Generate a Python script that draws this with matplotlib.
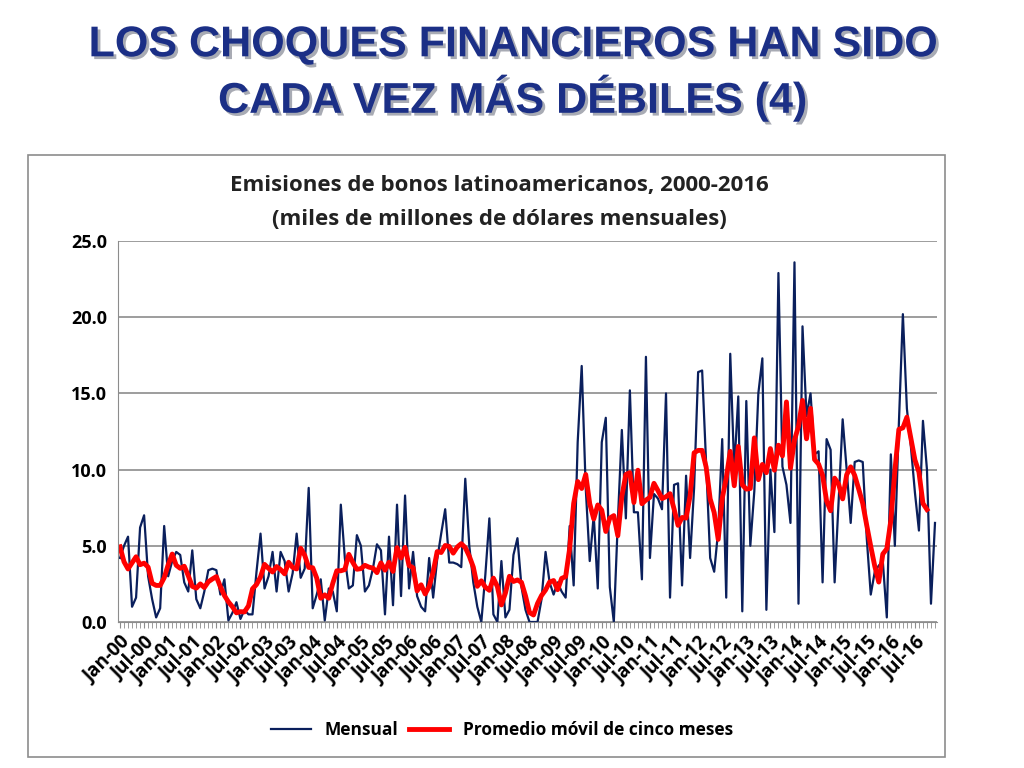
import numpy as np
import pandas as pd
import matplotlib.pyplot as plt
import matplotlib.patheffects as pe
from matplotlib.patches import Rectangle

# monthly Latin American bond issues, Jan-2000 .. Dec-2016 (USD bn)
y2000 = [4.2, 5.0, 5.6, 1.0, 1.6, 6.2, 7.0, 3.0, 1.5, 0.3, 0.9, 6.3]
y2001 = [3.0, 4.0, 4.6, 4.4, 2.6, 2.0, 4.7, 1.5, 0.9, 2.0, 3.4, 3.5]
y2002 = [3.4, 1.8, 2.8, 0.1, 0.6, 1.3, 0.2, 0.8, 0.5, 0.5, 3.3, 5.8]
y2003 = [2.2, 3.0, 4.6, 2.0, 4.6, 4.0, 2.0, 3.2, 5.8, 2.9, 3.5, 8.8]
y2004 = [0.9, 1.8, 2.8, 0.1, 2.2, 2.0, 0.7, 7.7, 4.2, 2.2, 2.4, 5.7]
y2005 = [5.0, 2.0, 2.4, 3.5, 5.1, 4.7, 0.5, 5.6, 1.1, 7.7, 1.7, 8.3]
y2006 = [2.2, 4.6, 1.7, 1.0, 0.7, 4.2, 1.6, 4.1, 5.8, 7.4, 3.9, 3.9]
y2007 = [3.8, 3.6, 9.4, 5.0, 2.6, 1.0, 0.0, 3.1, 6.8, 0.5, 0.0, 4.0]
y2008 = [0.3, 0.8, 4.4, 5.5, 2.3, 0.8, 0.0, 0.0, 0.0, 1.5, 4.6, 2.6]
y2009 = [1.8, 2.6, 2.0, 1.6, 6.3, 2.4, 11.8, 16.8, 8.8, 4.0, 7.0, 2.2]
y2010 = [11.8, 13.4, 2.3, 0.0, 6.6, 12.6, 6.8, 15.2, 7.2, 7.2, 2.8, 17.4]
y2011 = [4.2, 8.4, 8.1, 7.4, 15.0, 1.6, 9.0, 9.1, 2.4, 9.6, 4.2, 8.8]
y2012 = [16.4, 16.5, 10.4, 4.2, 3.3, 6.0, 12.0, 1.6, 17.6, 10.0, 14.8, 0.7]
y2013 = [14.5, 5.0, 8.6, 15.0, 17.3, 0.8, 10.0, 5.9, 22.9, 10.2, 9.0, 6.5]
y2014 = [23.6, 1.2, 19.4, 13.5, 15.0, 11.0, 11.2, 2.6, 12.0, 11.3, 2.6, 8.0]
y2015 = [13.3, 10.0, 6.5, 10.5, 10.6, 10.5, 5.5, 1.8, 3.3, 3.7, 4.0, 0.3]
y2016 = [11.0, 5.0, 13.0, 20.2, 14.0, 11.5, 8.5, 6.0, 13.2, 10.0, 1.2, 6.5]

mensual = np.array(y2000 + y2001 + y2002 + y2003 + y2004 + y2005 + y2006 + y2007 + y2008
                   + y2009 + y2010 + y2011 + y2012 + y2013 + y2014 + y2015 + y2016)
promedio = pd.Series(mensual).rolling(5, center=True, min_periods=3).mean().values
promedio[-2:] = np.nan

years = list(range(0, 17))
tick_labels = []
for yr in years:
    tick_labels += ["Jan-%02d" % yr, "Jul-%02d" % yr]

fig = plt.figure(figsize=(10.24, 7.68), dpi=100)
fig.patch.set_facecolor("white")

shadow = [pe.withSimplePatchShadow(offset=(2, -2), alpha=0.35)]
fig.text(0.5, 0.941, "LOS CHOQUES FINANCIEROS HAN SIDO", ha="center", va="center",
         fontsize=31, fontweight="bold", color="#1B2F86", family="Liberation Sans",
         path_effects=shadow)
fig.text(0.5, 0.872, "CADA VEZ MÁS DÉBILES (4)", ha="center", va="center",
         fontsize=31, fontweight="bold", color="#1B2F86", family="Liberation Sans",
         path_effects=shadow)

# chart frame
fig.patches.append(Rectangle((28/1024, 11/768), 917/1024, 602/768, transform=fig.transFigure,
                             fill=False, edgecolor="#8c8c8c", linewidth=1.2))

fig.text(0.488, 0.758, "Emisiones de bonos latinoamericanos, 2000-2016", ha="center", va="center",
         fontsize=16, fontweight="bold", color="#222222", family="Open Sans")
fig.text(0.488, 0.714, "(miles de millones de dólares mensuales)", ha="center", va="center",
         fontsize=16, fontweight="bold", color="#222222", family="Open Sans")

ax = fig.add_axes([118/1024, 146/768, 819/1024, 381/768])
x = np.arange(len(mensual))
ax.plot(x, mensual, color="#0A1F5C", linewidth=1.6, label="Mensual")
ax.plot(x, promedio, color="#FF0000", linewidth=3.5, label="Promedio móvil de cinco meses")

ax.set_ylim(0, 25)
ax.set_xlim(-0.5, len(mensual) - 0.5)
ax.set_yticks(np.arange(0, 25.1, 5))
ax.set_yticklabels(["%.1f" % v for v in np.arange(0, 25.1, 5)], fontsize=13, fontweight="bold",
                   family="Open Sans")
ax.yaxis.grid(True, color="#8c8c8c", linewidth=1.2)
ax.set_axisbelow(True)
ax.set_xticks(np.arange(0, len(mensual), 6))
ax.set_xticklabels(tick_labels, rotation=45, ha="right", rotation_mode="anchor",
                   fontsize=13.5, fontweight="bold", family="Open Sans")
ax.set_xticks(np.arange(0, len(mensual)), minor=True)
ax.tick_params(axis="x", which="both", length=4, color="#8c8c8c")
ax.tick_params(axis="y", length=0, pad=8)
for s in ["top", "right"]:
    ax.spines[s].set_visible(False)
ax.spines["left"].set_color("#8c8c8c")
ax.spines["bottom"].set_color("#8c8c8c")

fig.legend(loc="center", bbox_to_anchor=(0.49, 0.05), ncol=2, frameon=False,
           prop={"family": "Open Sans", "weight": "bold", "size": 12.5}, handlelength=2.3,
           columnspacing=0.6)

fig.savefig("out.png", dpi=100)
